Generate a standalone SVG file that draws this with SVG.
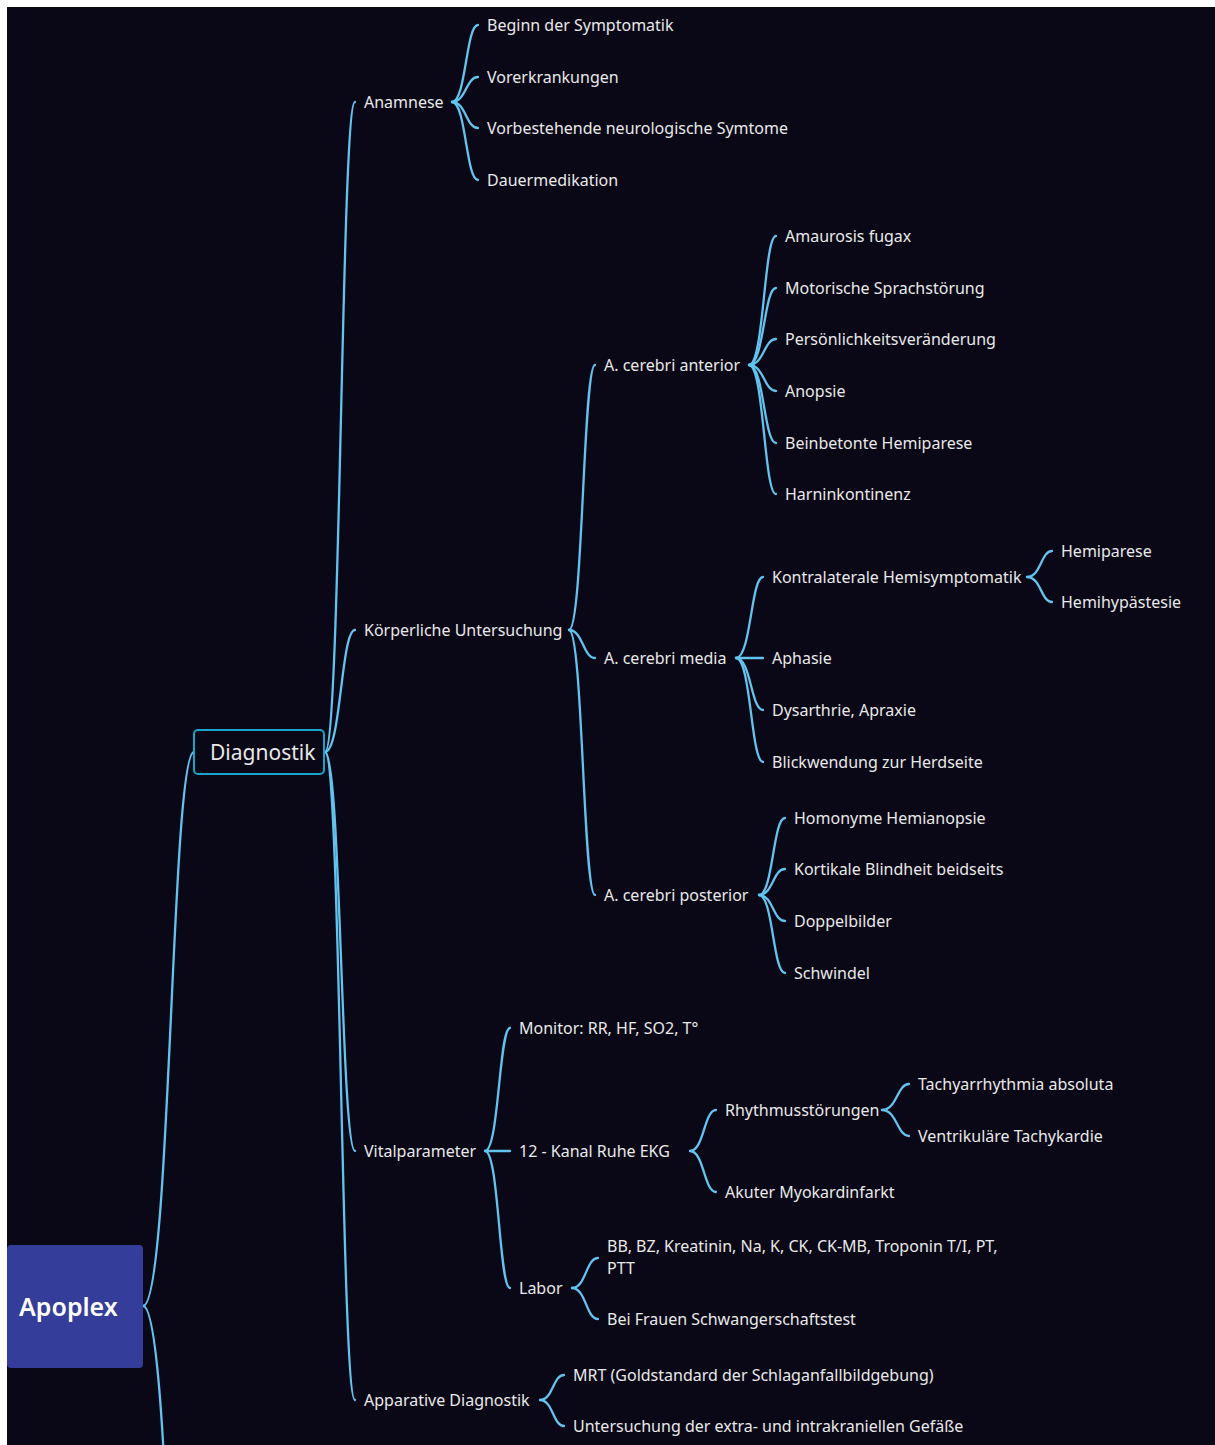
<svg xmlns="http://www.w3.org/2000/svg" width="1215" height="1445" viewBox="0 0 1215 1445">
<style>
.t{font-family:"Noto Sans","Open Sans",sans-serif;font-size:16px;fill:#e8e8e8}
.c{fill:none;stroke:#62c3ee;stroke-width:2.3;stroke-linecap:round}
.root{font-family:"Noto Sans","Open Sans",sans-serif;font-size:25px;font-weight:600;fill:#ffffff}
.main{font-family:"Noto Sans","Open Sans",sans-serif;font-size:21px;fill:#e8e8e8}
</style>
<rect x="0" y="0" width="1215" height="1445" fill="#ffffff"/>
<rect x="7" y="7" width="1208" height="1438" fill="#0a0817"/>
<g id="connectors">
<path class="c" d="M143,1306 C171,1306 171,752 194,752"/>
<path class="c" d="M143,1306 C171,1306 171,1860 194,1860"/>
<path class="c" d="M325,752 C341,752 341,102 355,102"/>
<path class="c" d="M325,752 C341,752 341,630 355,630"/>
<path class="c" d="M325,752 C341,752 341,1151 355,1151"/>
<path class="c" d="M325,752 C341,752 341,1400 355,1400"/>
<path class="c" d="M452,102 C466,102 466,25 478,25"/>
<path class="c" d="M452,102 C466,102 466,77 478,77"/>
<path class="c" d="M452,102 C466,102 466,128 478,128"/>
<path class="c" d="M452,102 C466,102 466,180 478,180"/>
<path class="c" d="M569,630 C583,630 583,365 595,365"/>
<path class="c" d="M569,630 C583,630 583,658 595,658"/>
<path class="c" d="M569,630 C583,630 583,895 595,895"/>
<path class="c" d="M749,365 C764,365 764,236 776,236"/>
<path class="c" d="M749,365 C764,365 764,288 776,288"/>
<path class="c" d="M749,365 C764,365 764,339 776,339"/>
<path class="c" d="M749,365 C764,365 764,391 776,391"/>
<path class="c" d="M749,365 C764,365 764,443 776,443"/>
<path class="c" d="M749,365 C764,365 764,494 776,494"/>
<path class="c" d="M736,658 C751,658 751,577 763,577"/>
<path class="c" d="M736,658 L763,658"/>
<path class="c" d="M736,658 C751,658 751,710 763,710"/>
<path class="c" d="M736,658 C751,658 751,762 763,762"/>
<path class="c" d="M1027,577 C1041,577 1041,551 1052,551"/>
<path class="c" d="M1027,577 C1041,577 1041,602 1052,602"/>
<path class="c" d="M759,895 C773,895 773,818 785,818"/>
<path class="c" d="M759,895 C773,895 773,869 785,869"/>
<path class="c" d="M759,895 C773,895 773,921 785,921"/>
<path class="c" d="M759,895 C773,895 773,973 785,973"/>
<path class="c" d="M485,1151 C499,1151 499,1028 510,1028"/>
<path class="c" d="M485,1151 L510,1151"/>
<path class="c" d="M485,1151 C499,1151 499,1288 510,1288"/>
<path class="c" d="M690,1151 C704,1151 704,1110 716,1110"/>
<path class="c" d="M690,1151 C704,1151 704,1192 716,1192"/>
<path class="c" d="M882,1110 C897,1110 897,1084 909,1084"/>
<path class="c" d="M882,1110 C897,1110 897,1136 909,1136"/>
<path class="c" d="M572,1288 C586,1288 586,1258 598,1258"/>
<path class="c" d="M572,1288 C586,1288 586,1319 598,1319"/>
<path class="c" d="M540,1400 C553,1400 553,1375 564,1375"/>
<path class="c" d="M540,1400 C553,1400 553,1426 564,1426"/>
</g>
<g id="apoplex"><rect x="7" y="1245" width="136" height="123" rx="4" fill="#343d99"/><text class="root" x="19" y="1316">Apoplex</text></g>
<g id="diagnostik"><rect x="194" y="730" width="130" height="44" rx="4" fill="#0a0817" stroke="#16a4c8" stroke-width="2"/><text class="main" x="210" y="760">Diagnostik</text></g>
<g id="anamnese"><text class="t" x="364" y="108">Anamnese</text></g>
<g id="beginn"><text class="t" x="487" y="31">Beginn der Symptomatik</text></g>
<g id="vorerkrankungen"><text class="t" x="487" y="83">Vorerkrankungen</text></g>
<g id="vorbestehende"><text class="t" x="487" y="134">Vorbestehende neurologische Symtome</text></g>
<g id="dauermedikation"><text class="t" x="487" y="186">Dauermedikation</text></g>
<g id="koerperliche"><text class="t" x="364" y="636">Körperliche Untersuchung</text></g>
<g id="anterior"><text class="t" x="604" y="371">A. cerebri anterior</text></g>
<g id="amaurosis"><text class="t" x="785" y="242">Amaurosis fugax</text></g>
<g id="motorische"><text class="t" x="785" y="294">Motorische Sprachstörung</text></g>
<g id="persoenlichkeit"><text class="t" x="785" y="345">Persönlichkeitsveränderung</text></g>
<g id="anopsie"><text class="t" x="785" y="397">Anopsie</text></g>
<g id="beinbetonte"><text class="t" x="785" y="449">Beinbetonte Hemiparese</text></g>
<g id="harninkontinenz"><text class="t" x="785" y="500">Harninkontinenz</text></g>
<g id="media"><text class="t" x="604" y="664">A. cerebri media</text></g>
<g id="kontralaterale"><text class="t" x="772" y="583">Kontralaterale Hemisymptomatik</text></g>
<g id="hemiparese"><text class="t" x="1061" y="557">Hemiparese</text></g>
<g id="hemihypaestesie"><text class="t" x="1061" y="608">Hemihypästesie</text></g>
<g id="aphasie"><text class="t" x="772" y="664">Aphasie</text></g>
<g id="dysarthrie"><text class="t" x="772" y="716">Dysarthrie, Apraxie</text></g>
<g id="blickwendung"><text class="t" x="772" y="768">Blickwendung zur Herdseite</text></g>
<g id="posterior"><text class="t" x="604" y="901">A. cerebri posterior</text></g>
<g id="homonyme"><text class="t" x="794" y="824">Homonyme Hemianopsie</text></g>
<g id="kortikale"><text class="t" x="794" y="875">Kortikale Blindheit beidseits</text></g>
<g id="doppelbilder"><text class="t" x="794" y="927">Doppelbilder</text></g>
<g id="schwindel"><text class="t" x="794" y="979">Schwindel</text></g>
<g id="vitalparameter"><text class="t" x="364" y="1157">Vitalparameter</text></g>
<g id="monitor"><text class="t" x="519" y="1034">Monitor: RR, HF, SO2, T°</text></g>
<g id="ekg"><text class="t" x="519" y="1157">12 - Kanal Ruhe EKG</text></g>
<g id="rhythmus"><text class="t" x="725" y="1116">Rhythmusstörungen</text></g>
<g id="tachyarrhythmia"><text class="t" x="918" y="1090">Tachyarrhythmia absoluta</text></g>
<g id="ventrikulaere"><text class="t" x="918" y="1142">Ventrikuläre Tachykardie</text></g>
<g id="myokardinfarkt"><text class="t" x="725" y="1198">Akuter Myokardinfarkt</text></g>
<g id="labor"><text class="t" x="519" y="1294">Labor</text></g>
<g id="laborwerte"><text class="t" x="607" y="1252">BB, BZ, Kreatinin, Na, K, CK, CK-MB, Troponin T/I, PT,<tspan x="607" dy="22">PTT</tspan></text></g>
<g id="schwangerschaft"><text class="t" x="607" y="1325">Bei Frauen Schwangerschaftstest</text></g>
<g id="apparative"><text class="t" x="364" y="1406">Apparative Diagnostik</text></g>
<g id="mrt"><text class="t" x="573" y="1381">MRT (Goldstandard der Schlaganfallbildgebung)</text></g>
<g id="gefaesse"><text class="t" x="573" y="1432">Untersuchung der extra- und intrakraniellen Gefäße</text></g>
</svg>
